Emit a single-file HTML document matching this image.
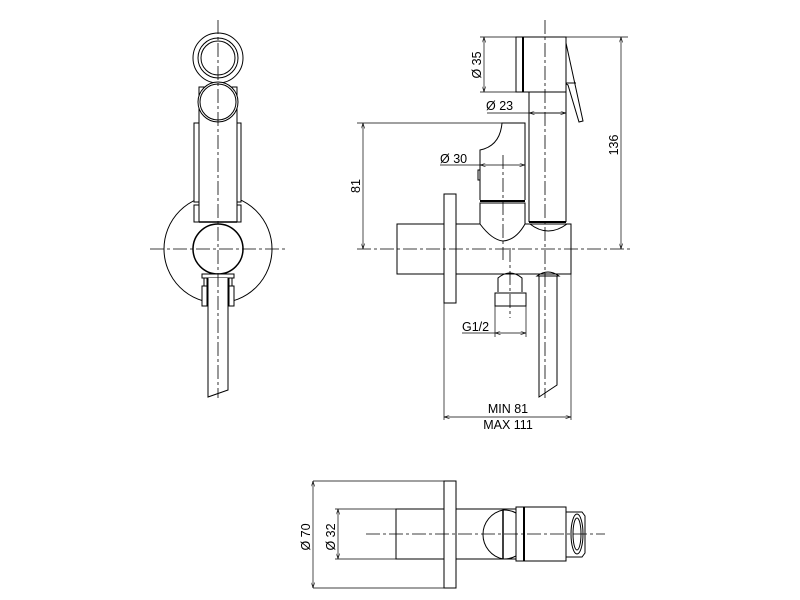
<!DOCTYPE html>
<html><head><style>html,body{margin:0;padding:0;background:#fff;}svg{display:block}</style></head>
<body>
<svg width="800" height="600" viewBox="0 0 800 600" xmlns="http://www.w3.org/2000/svg" font-family="Liberation Sans, sans-serif" font-size="12.5">
<defs>
<marker id="a" viewBox="0 0 10 6" refX="10" refY="3" markerWidth="8" markerHeight="5" orient="auto-start-reverse"><path d="M0,0 L10,3 L0,6" fill="none" stroke="#000" stroke-width="1"/></marker>
</defs>
<g fill="none" stroke="#000" stroke-width="1">
<!-- LEFT VIEW -->
<circle cx="218" cy="249" r="54"/>
<rect x="194" y="123" width="47" height="99" fill="#fff" stroke="none"/>
<rect x="199" y="87" width="38" height="135" fill="#fff"/>
<rect x="194" y="123" width="5" height="79"/>
<rect x="237" y="123" width="4" height="79"/>
<rect x="194" y="205" width="5" height="17"/>
<rect x="237" y="205" width="4" height="17"/>
<line x1="199" y1="222" x2="237" y2="222" stroke-width="1.5"/>
<circle cx="218" cy="58" r="25" fill="#fff"/>
<circle cx="218" cy="58" r="20"/>
<circle cx="218" cy="58" r="17"/>
<circle cx="218" cy="102" r="20" fill="#fff"/>
<circle cx="218" cy="102" r="18"/>
<circle cx="218" cy="249" r="25" fill="#fff" stroke-width="1.5"/>
<rect x="202" y="274" width="32" height="4" fill="#fff"/>
<rect x="204" y="278" width="3" height="15"/>
<rect x="229" y="278" width="3" height="15"/>
<rect x="202" y="286" width="5" height="20" fill="#fff"/>
<rect x="229" y="286" width="5" height="20" fill="#fff"/>
<path d="M208,278 L208,397 L228,390 L228,278" fill="#fff"/>
<line x1="218" y1="20" x2="218" y2="398" stroke-dasharray="14,3,3,3" stroke-width="0.8"/>
<line x1="150" y1="249" x2="288" y2="249" stroke-dasharray="14,3,3,3" stroke-width="0.8"/>

<!-- SIDE VIEW -->
<rect x="397" y="224" width="47" height="50"/>
<rect x="444" y="194" width="12" height="109" fill="#fff"/>
<path d="M456,224 L480,224 Q492,240 503,241 Q516,240 525,224 L571,224 L571,274 L456,274"/>
<path d="M480,224 L480,203 L525,203 L525,224"/>
<line x1="480" y1="201" x2="525" y2="201" stroke-width="2"/>
<path d="M480,200 L480,150 Q500,146 502,123 L525,123 L525,200"/>
<rect x="478" y="170" width="2" height="10"/>
<path d="M529,222 L529,92 Q548,80 566,92 L566,222"/>
<line x1="529" y1="222" x2="566" y2="222" stroke-width="2"/>
<path d="M530,224 Q548,238 567,224"/>
<rect x="516" y="37" width="50" height="55" fill="#fff"/>
<line x1="523" y1="37" x2="523" y2="92" stroke-width="2"/>
<path d="M566,43 L583,121 L579,122 L568,85 Q566,84 566,83"/>
<line x1="566" y1="83" x2="576" y2="83"/>
<path d="M498,292 L498,278 Q510,268 522,278 L522,292"/>
<rect x="495" y="293" width="31" height="13" fill="#fff"/>
<path d="M537,276 Q548,268 559,276 Z"/>
<path d="M539,276 L539,397 L557,385 L557,276"/>
<line x1="545" y1="20" x2="545" y2="398" stroke-dasharray="14,3,3,3" stroke-width="0.8"/>
<line x1="503" y1="155" x2="503" y2="260" stroke-dasharray="14,3,3,3" stroke-width="0.8"/>
<line x1="510" y1="248" x2="510" y2="318" stroke-dasharray="14,3,3,3" stroke-width="0.8"/>
<line x1="357" y1="249" x2="630" y2="249" stroke-dasharray="14,3,3,3" stroke-width="0.8"/>
<g stroke-width="0.7">
<line x1="480" y1="37" x2="516" y2="37"/><line x1="480" y1="92" x2="516" y2="92"/>
<line x1="484" y1="37" x2="484" y2="92" marker-start="url(#a)" marker-end="url(#a)"/>
<line x1="566" y1="37" x2="628" y2="37"/>
<line x1="621" y1="37" x2="621" y2="249" marker-start="url(#a)" marker-end="url(#a)"/>
<line x1="487" y1="113" x2="566" y2="113"/>
<line x1="529" y1="113" x2="566" y2="113" marker-start="url(#a)" marker-end="url(#a)"/>
<line x1="357" y1="123" x2="502" y2="123"/>
<line x1="363" y1="123" x2="363" y2="249" marker-start="url(#a)" marker-end="url(#a)"/>
<line x1="440" y1="165" x2="480" y2="165"/>
<line x1="480" y1="165" x2="525" y2="165" marker-start="url(#a)" marker-end="url(#a)"/>
<line x1="495" y1="306" x2="495" y2="337"/><line x1="526" y1="306" x2="526" y2="337"/>
<line x1="462" y1="333" x2="495" y2="333"/>
<line x1="495" y1="333" x2="526" y2="333" marker-start="url(#a)" marker-end="url(#a)"/>
<line x1="444" y1="303" x2="444" y2="420"/><line x1="571" y1="274" x2="571" y2="420"/>
<line x1="444" y1="417" x2="571" y2="417" marker-start="url(#a)" marker-end="url(#a)"/>
</g>

<!-- BOTTOM VIEW -->
<rect x="396" y="509" width="48" height="50"/>
<rect x="444" y="481" width="12" height="107"/>
<path d="M456,509 L516,509 M456,559 L516,559"/>
<path d="M503,510 A25,25 0 0 0 503,559"/>
<path d="M503,510 A25,25 0 0 1 516,513 M503,559 A25,25 0 0 0 516,556"/>
<line x1="503" y1="510" x2="503" y2="559" stroke-width="1.5"/>
<rect x="516" y="507" width="50" height="54" fill="#fff"/>
<line x1="524" y1="507" x2="524" y2="561" stroke-width="2"/>
<path d="M566,512 L582,512 L585,516 L585,553 L582,557 L566,557"/>
<ellipse cx="577" cy="534" rx="6" ry="20"/>
<ellipse cx="577" cy="534" rx="4" ry="16"/>
<line x1="366" y1="534" x2="605" y2="534" stroke-dasharray="14,3,3,3" stroke-width="0.8"/>
<g stroke-width="0.7">
<line x1="313" y1="481" x2="444" y2="481"/><line x1="313" y1="588" x2="444" y2="588"/>
<line x1="313" y1="481" x2="313" y2="588" marker-start="url(#a)" marker-end="url(#a)"/>
<line x1="335" y1="509" x2="396" y2="509"/><line x1="335" y1="559" x2="396" y2="559"/>
<line x1="338" y1="509" x2="338" y2="559" marker-start="url(#a)" marker-end="url(#a)"/>
</g>
</g>
<g fill="#000" stroke="none">
<text transform="translate(481,65) rotate(-90)" text-anchor="middle">Ø 35</text>
<text x="486" y="110">Ø 23</text>
<text x="440" y="163">Ø 30</text>
<text transform="translate(360,186) rotate(-90)" text-anchor="middle">81</text>
<text transform="translate(618,145) rotate(-90)" text-anchor="middle">136</text>
<text x="462" y="331">G1/2</text>
<text x="508" y="413" text-anchor="middle">MIN 81</text>
<text x="508" y="429" text-anchor="middle">MAX 111</text>
<text transform="translate(310,537) rotate(-90)" text-anchor="middle">Ø 70</text>
<text transform="translate(335,537) rotate(-90)" text-anchor="middle">Ø 32</text>
</g>
</svg>
</body></html>
